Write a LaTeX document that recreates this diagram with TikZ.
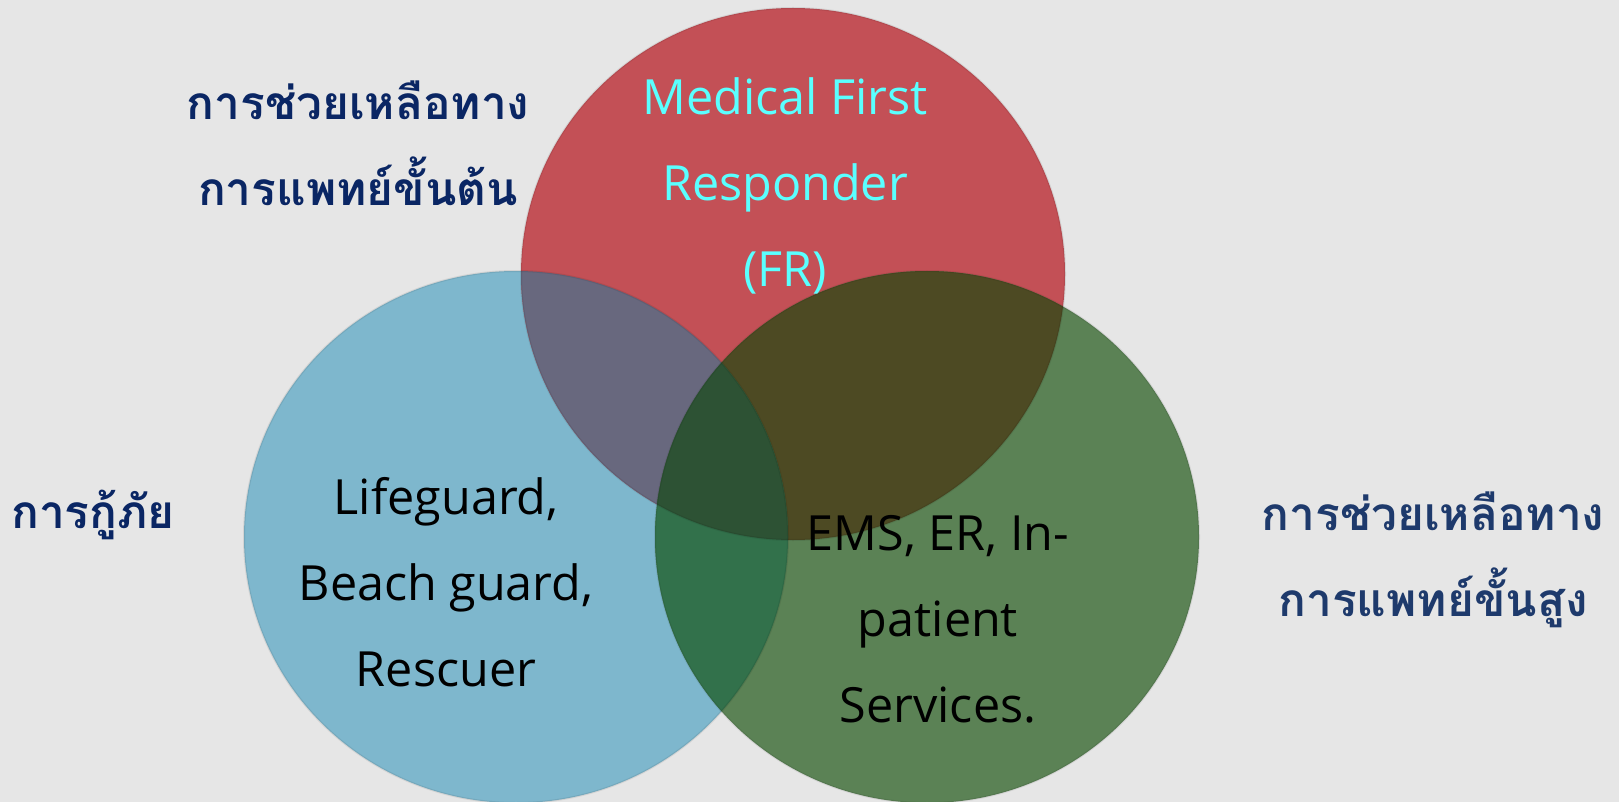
\documentclass[tikz,border=0pt]{standalone}
\usepackage{fontspec}
\usepackage{tikz}
\setmainfont{Open Sans}
\newfontfamily\thaifont[Script=Thai]{Loma}

\definecolor{slidegray}{RGB}{230,230,230}
\definecolor{frred}{RGB}{195,80,86}
\definecolor{rescueblue}{RGB}{126,183,205}
\definecolor{emsgreen}{RGB}{91,130,85}
\definecolor{redblue}{RGB}{104,104,126}
\definecolor{redgreen}{RGB}{77,74,35}
\definecolor{bluegreen}{RGB}{50,113,75}
\definecolor{allthree}{RGB}{45,82,52}
\definecolor{thainavy}{RGB}{10,38,100}
\definecolor{thaislate}{RGB}{30,58,108}
\definecolor{frcyan}{RGB}{90,255,255}

\tikzset{
	venn/.style={x radius=272pt,y radius=266pt},
	rim/.style={draw=black,draw opacity=0.08,line width=2pt},
	thaitext/.style={font=\thaifont\bfseries\fontsize{46}{86}\selectfont,align=center,text=thainavy},
	roletext/.style={font=\fontsize{48.5}{86}\selectfont,align=center,text=black}
}

\begin{document}
\begin{tikzpicture}[x=1pt,y=-1pt]
	\fill[slidegray] (0,0) rectangle (1619,802);
	\useasboundingbox (0,0) rectangle (1619,802);
	\coordinate (fr) at (793,274);
	\coordinate (rescue) at (516,537);
	\coordinate (ems) at (927,537);
	\fill[rescueblue] (rescue) ellipse [venn];
	\fill[frred] (fr) ellipse [venn];
	\fill[emsgreen] (ems) ellipse [venn];
	%overlaps
	\begin{scope}
		\clip (fr) ellipse [venn];
		\fill[redblue] (rescue) ellipse [venn];
		\fill[redgreen] (ems) ellipse [venn];
	\end{scope}
	\begin{scope}
		\clip (rescue) ellipse [venn];
		\fill[bluegreen] (ems) ellipse [venn];
		\clip (fr) ellipse [venn];
		\fill[allthree] (ems) ellipse [venn];
	\end{scope}
	\draw[rim] (rescue) ellipse [venn];
	\draw[rim] (fr) ellipse [venn];
	\draw[rim] (ems) ellipse [venn];
	%labels
	\node[thaitext] (basiclbl) at (358,143) {การช่วยเหลือทาง\\การแพทย์ขั้นต้น};
	\node[thaitext] (rescuelbl) at (93,515) {การกู้ภัย};
	\node[thaitext,text=thaislate] (advlbl) at (1433,560) {การช่วยเหลือทาง\\การแพทย์ขั้นสูง};
	\node[roletext,text=frcyan] (frtxt) at (785,186) {Medical First\\Responder\\(FR)};
	\node[roletext] (rescuetxt) at (446,582) {Lifeguard,\\Beach guard,\\Rescuer};
	\node[roletext] (emstxt) at (938,619) {EMS, ER, In-\\patient\\Services.};
\end{tikzpicture}
\end{document}
